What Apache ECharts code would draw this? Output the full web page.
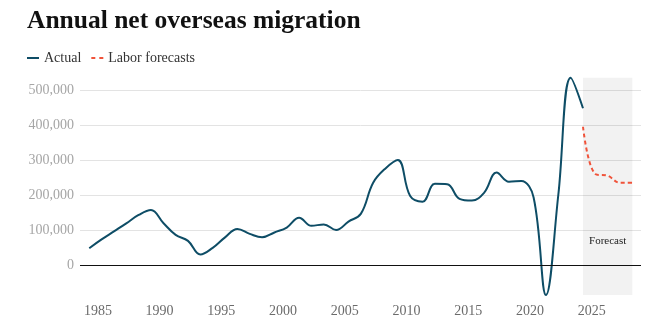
<!DOCTYPE html>
<html>
<head>
<meta charset="utf-8">
<title>Annual net overseas migration</title>
<script src="https://cdn.jsdelivr.net/npm/echarts@6/dist/echarts.min.js"></script>
<style>
  html, body { margin: 0; padding: 0; background: #fff; }
  #chart { width: 662px; height: 324px; }
</style>
</head>
<body>
<div id="chart"></div>
<script>
// Financial years (points sit at the June quarter of each year)
const actualYears = [
  1984, 1985, 1986, 1987, 1988, 1989, 1990, 1991, 1992, 1993,
  1994, 1995, 1996, 1997, 1998, 1999, 2000, 2001, 2002, 2003,
  2004, 2005, 2006, 2007, 2008, 2009, 2010, 2011, 2012, 2013,
  2014, 2015, 2016, 2017, 2018, 2019, 2020, 2021, 2022, 2023, 2024
];
// Net overseas migration, persons
const actualValues = [
  48000, 73000, 96000, 119000, 143000, 157000, 120000, 86000, 69000, 30000,
  49000, 79000, 103000, 89000, 79000, 93000, 107000, 135000, 112000, 116000,
  100000, 124000, 146000, 235000, 276000, 300000, 197000, 181000, 232000, 231000,
  189000, 184000, 207000, 264000, 238000, 240000, 193000, -86000, 200000, 535000, 448000
];
const forecastYears = [2024, 2025, 2026, 2027, 2028];
const forecastValues = [395000, 260000, 255000, 235000, 235000];

const xTickLabels = [1985, 1990, 1995, 2000, 2005, 2010, 2015, 2020, 2025];
const yTickLabels = [0, 100000, 200000, 300000, 400000, 500000];

const FY_POINT = 0.3; // position of each observation within its year
const SERIF = "'Liberation Serif', 'Times New Roman', serif";

const toPoints = (years, values) => years.map((y, i) => [y + FY_POINT, values[i]]);

const allValues = actualValues.concat(forecastValues);
const bandLow = Math.min(...allValues);
const bandHigh = Math.max(...allValues);

// Legend keys: a solid bar and a two-dash bar
const SOLID_KEY = 'path://M0,0h12v2h-12z';
const DASHED_KEY = 'path://M0,0h4v2h-4z M8,0h4v2h-4z';

const chart = echarts.init(document.getElementById('chart'), null, { renderer: 'canvas' });

chart.setOption({
  animation: false,
  backgroundColor: '#ffffff',
  title: {
    text: 'Annual net overseas migration',
    left: 27,
    top: 8,
    padding: 0,
    textStyle: { fontFamily: SERIF, fontWeight: 'bold', fontSize: 25.5, color: '#111111' }
  },
  legend: {
    left: 27,
    top: 51,
    padding: 0,
    itemWidth: 12,
    itemHeight: 2,
    itemGap: 10,
    textStyle: { fontFamily: SERIF, fontSize: 14, color: '#333333' },
    data: [
      { name: 'Actual', icon: SOLID_KEY },
      { name: 'Labor forecasts', icon: DASHED_KEY }
    ]
  },
  grid: { left: 80, right: 21, top: 72.5, bottom: 24 },
  xAxis: {
    type: 'value',
    min: 1983.55,
    max: 2029.0,
    axisLine: { show: false },
    axisTick: { show: false },
    splitLine: { show: false },
    axisLabel: {
      customValues: xTickLabels,
      formatter: v => String(v),
      margin: 4,
      fontFamily: SERIF,
      fontSize: 14,
      color: '#6b6b6b'
    }
  },
  yAxis: {
    type: 'value',
    min: -100000,
    max: 550000,
    interval: 100000,
    axisLine: { show: false },
    axisTick: { show: false },
    splitLine: {
      show: true,
      showMinLine: false,
      showMaxLine: false,
      lineStyle: { color: '#e3e3e3', width: 1 }
    },
    axisLabel: {
      customValues: yTickLabels,
      formatter: v => v.toLocaleString('en-US'),
      margin: 6,
      fontFamily: SERIF,
      fontSize: 14,
      color: '#a6a6a6'
    }
  },
  series: [
    {
      name: 'Labor forecasts',
      type: 'line',
      data: toPoints(forecastYears, forecastValues),
      smooth: 0.4,
      symbol: 'none',
      lineStyle: { color: '#f0533a', width: 2, type: [4, 3] },
      itemStyle: { color: '#f0533a' },
      z: 2,
      markArea: {
        silent: true,
        itemStyle: { color: 'rgba(0,0,0,0.05)' },
        label: {
          show: true,
          position: ['50%', '75%'],
          align: 'center',
          verticalAlign: 'middle',
          fontFamily: SERIF,
          fontSize: 11,
          color: '#222222'
        },
        data: [[
          { name: 'Forecast', xAxis: forecastYears[0] + FY_POINT, yAxis: bandLow },
          { xAxis: forecastYears[forecastYears.length - 1] + FY_POINT, yAxis: bandHigh }
        ]]
      }
    },
    {
      name: 'Actual',
      type: 'line',
      data: toPoints(actualYears, actualValues),
      smooth: 0.4,
      symbol: 'none',
      lineStyle: { color: '#0e4d66', width: 2 },
      itemStyle: { color: '#0e4d66' },
      z: 3,
      markLine: {
        silent: true,
        symbol: 'none',
        label: { show: false },
        lineStyle: { color: '#111111', width: 1.2, type: 'solid' },
        data: [{ yAxis: 0 }]
      }
    }
  ]
});
</script>
</body>
</html>
